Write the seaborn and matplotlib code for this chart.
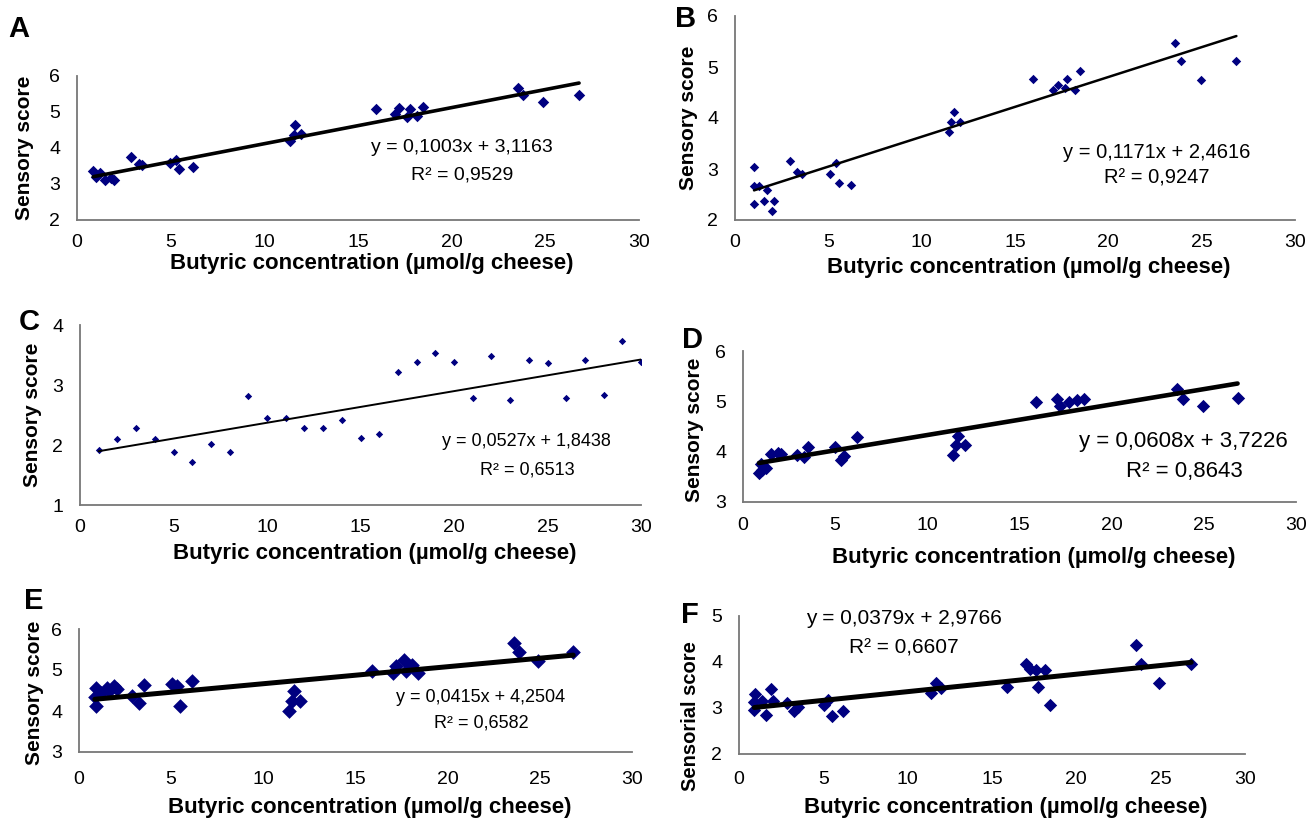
import numpy as np
import pandas as pd
import seaborn as sns
import matplotlib
matplotlib.use("Agg")
import matplotlib.pyplot as plt

# butyric concentration (umol/g cheese) and sensory scores
a_x = [0.87, 0.99, 1.22, 1.52, 1.81, 1.97, 2.90, 3.29, 3.49, 4.97, 5.27, 5.46, 6.19,
       11.38, 11.64, 11.58, 11.97, 15.94, 16.96, 17.20, 17.59, 17.75, 18.15, 18.48,
       23.55, 23.81, 24.89, 26.80]
a_y = [3.37, 3.20, 3.30, 3.11, 3.16, 3.11, 3.74, 3.56, 3.53, 3.57, 3.67, 3.41, 3.46,
       4.20, 4.63, 4.36, 4.39, 5.08, 4.94, 5.10, 4.85, 5.07, 4.89, 5.15,
       5.66, 5.47, 5.28, 5.47]

b_x = [1.02, 1.02, 1.28, 1.69, 1.02, 1.57, 2.07, 1.97, 2.93, 3.30, 3.60, 5.08, 5.40,
       5.56, 6.23, 11.49, 11.59, 11.72, 12.07, 15.96, 17.05, 17.30, 17.68, 17.76,
       18.20, 18.49, 23.56, 23.91, 24.96, 26.86]
b_y = [3.03, 2.66, 2.66, 2.58, 2.32, 2.37, 2.37, 2.18, 3.15, 2.95, 2.91, 2.91, 3.12,
       2.73, 2.69, 3.73, 3.92, 4.12, 3.93, 4.77, 4.54, 4.65, 4.58, 4.77,
       4.54, 4.92, 5.48, 5.11, 4.75, 5.11]

c_x = list(range(1, 31))
c_y = [1.92, 2.10, 2.29, 2.10, 1.88, 1.72, 2.02, 1.88, 2.81, 2.45, 2.45, 2.29, 2.29,
       2.41, 2.12, 2.19, 3.22, 3.38, 3.53, 3.38, 2.79, 3.48, 2.75, 3.42, 3.36, 2.79,
       3.42, 2.83, 3.73, 3.38]

d_x = [0.87, 0.97, 1.05, 1.26, 1.50, 1.88, 2.08, 2.91, 3.30, 3.53, 4.99, 5.32, 5.48,
       6.16, 11.40, 11.55, 11.69, 12.04, 15.90, 17.03, 17.22, 17.67, 18.10, 18.49,
       23.57, 23.88, 24.95, 26.83]
d_y = [3.57, 3.75, 3.63, 3.67, 3.95, 3.97, 3.95, 3.93, 3.89, 4.09, 4.09, 3.83, 3.91,
       4.29, 3.93, 4.14, 4.32, 4.14, 4.99, 5.05, 4.91, 4.99, 5.03, 5.05,
       5.24, 5.05, 4.90, 5.07]

e_x = [0.90, 0.86, 0.90, 1.20, 1.51, 1.61, 1.91, 2.07, 2.87, 3.27, 3.51, 5.02, 5.32,
       5.48, 6.12, 11.41, 11.55, 11.69, 12.01, 15.90, 17.03, 17.17, 17.63, 17.73,
       18.07, 18.41, 23.59, 23.86, 24.90, 26.81]
e_y = [4.56, 4.34, 4.13, 4.44, 4.56, 4.48, 4.60, 4.54, 4.36, 4.20, 4.64, 4.66, 4.62,
       4.11, 4.72, 3.99, 4.24, 4.50, 4.24, 4.98, 4.93, 5.09, 5.25, 4.98,
       5.11, 4.93, 5.66, 5.43, 5.23, 5.43]

f_x = [0.95, 0.91, 0.91, 1.37, 1.59, 1.90, 2.01, 2.85, 3.28, 3.49, 5.01, 5.29, 5.50,
       6.19, 11.37, 11.69, 11.99, 15.90, 17.02, 17.23, 17.61, 17.70, 18.12, 18.44,
       23.51, 23.85, 24.88, 26.81]
f_y = [3.30, 3.14, 2.96, 3.16, 2.85, 3.41, 3.15, 3.10, 2.94, 3.03, 3.07, 3.17, 2.83,
       2.93, 3.33, 3.54, 3.43, 3.46, 3.95, 3.84, 3.83, 3.46, 3.83, 3.07,
       4.38, 3.96, 3.54, 3.96]

# trendline coefficients printed on each panel
slopes = [0.1003, 0.1171, 0.0527, 0.0608, 0.0415, 0.0379]
intercepts = [3.1163, 2.4616, 1.8438, 3.7226, 4.2504, 2.9766]
r2_values = ["0,9529", "0,9247", "0,6513", "0,8643", "0,6582", "0,6607"]
eq_texts = ["y = 0,1003x + 3,1163", "y = 0,1171x + 2,4616", "y = 0,0527x + 1,8438",
            "y = 0,0608x + 3,7226", "y = 0,0415x + 4,2504", "y = 0,0379x + 2,9766"]

letters = ["A", "B", "C", "D", "E", "F"]
ylabels = ["Sensory score"] * 5 + ["Sensorial score"]
ylims = [(2, 6), (2, 6), (1, 4), (3, 6), (3, 6), (2, 5)]
x_ticks = [0, 5, 10, 15, 20, 25, 30]
xlabel = "Butyric concentration (\u00b5mol/g cheese)"

xs = [a_x, b_x, c_x, d_x, e_x, f_x]
ys = [a_y, b_y, c_y, d_y, e_y, f_y]

sns.set_theme(style="white")
plt.rcParams["font.family"] = ["Liberation Sans", "DejaVu Sans"]
plt.rcParams["text.color"] = "black"
plt.rcParams["xtick.color"] = "black"
plt.rcParams["ytick.color"] = "black"

W, H = 1312, 818
fig = plt.figure(figsize=(W / 100, H / 100), dpi=100)

def px(x, y):
    return x / W, 1 - y / H

# layout in pixels: x0, y_top, x1, y_bottom
rects = [(77, 76, 639, 220), (735, 16, 1295, 220), (80, 325, 641, 505),
         (743, 351, 1296, 502), (79, 629, 632, 752), (739, 616, 1245, 754)]
marker_s = [34, 23, 14, 46, 56, 46]
line_w = [2.6, 1.8, 1.4, 3.3, 3.6, 3.6]
xtick_pad = [5, 5, 5, 6, 9, 7]
eq_pos = [((462, 147), (462, 175), 14), ((1157, 152), (1157, 178), 14.5),
          ((526, 442), (527, 470), 13), ((1183, 442), (1184, 472), 16),
          ((481, 697), (481, 723), 13), ((904, 618), (904, 648), 15)]
letter_pos = [(19, 29), (686, 19), (29, 322), (692, 340), (34, 601), (690, 615)]
ylabel_pos = [(24, 148), (688, 118), (32, 415), (694, 430), (34, 693), (690, 716)]
ylabel_fs = [15, 15, 15, 15, 15, 14.5]
xlabel_y = [263, 268, 553, 558, 807, 807]

for i in range(6):
    x0, yt, x1, yb = rects[i]
    ax = fig.add_axes([x0 / W, 1 - yb / H, (x1 - x0) / W, (yb - yt) / H])
    df = pd.DataFrame({"conc": xs[i], "score": ys[i]})

    sns.scatterplot(data=df, x="conc", y="score", ax=ax, marker="D",
                    s=marker_s[i], color="#000080", linewidth=0, zorder=2)

    xfit = np.array([df["conc"].min(), df["conc"].max()])
    fit = pd.DataFrame({"conc": xfit, "score": slopes[i] * xfit + intercepts[i]})
    sns.lineplot(data=fit, x="conc", y="score", ax=ax, color="black",
                 linewidth=line_w[i], zorder=3)

    ax.set_xlim(0, 30)
    ax.set_ylim(*ylims[i])
    ax.set_xticks(x_ticks)
    ax.set_yticks(np.arange(ylims[i][0], ylims[i][1] + 1))
    ax.set_xlabel("")
    ax.set_ylabel("")
    for side in ["top", "right"]:
        ax.spines[side].set_visible(False)
    for side in ["left", "bottom"]:
        ax.spines[side].set_color("#777777")
        ax.spines[side].set_linewidth(1.3)
    ax.tick_params(axis="both", direction="out", length=5, width=1.2,
                   color="#444444", labelsize=14, labelcolor="black")
    ax.tick_params(axis="x", pad=xtick_pad[i])
    ax.tick_params(axis="y", pad=7)
    ax.patch.set_alpha(0)

    (e1, e2, fs) = eq_pos[i]
    fig.text(*px(*e1), eq_texts[i], ha="center", va="center", fontsize=fs)
    fig.text(*px(*e2), "R\u00b2 = " + r2_values[i], ha="center", va="center", fontsize=fs)

    fig.text(*px(*letter_pos[i]), letters[i], ha="center", va="center",
             fontsize=21, fontweight="bold")
    fig.text(*px(*ylabel_pos[i]), ylabels[i], ha="center", va="center",
             rotation=90, fontsize=ylabel_fs[i], fontweight="bold")
    fig.text(*px((x0 + x1) / 2 + 14, xlabel_y[i]), xlabel, ha="center",
             va="center", fontsize=16, fontweight="bold")

fig.savefig("out.png", dpi=100)
